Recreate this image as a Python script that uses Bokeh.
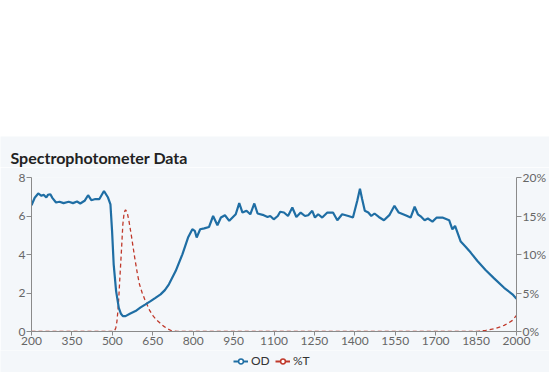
from bokeh.plotting import figure
from bokeh.layouts import column
from bokeh.models import (Range1d, LinearAxis, FixedTicker, PrintfTickFormatter,
                          Legend, LegendItem, ColumnDataSource, Spacer, Label)
from bokeh.embed import file_html
from bokeh.resources import INLINE

# ---- data ----
od_nm = [200, 212, 225, 237, 245, 255, 261, 270, 278, 291, 304, 319, 338, 354, 369, 381,
         397, 410, 422, 437, 452, 469, 484, 493, 499, 505, 514, 524, 532, 539, 549, 565,
         586, 605, 623, 642, 660, 679, 695, 710, 735, 760, 781, 797, 806, 813, 826, 841,
         859, 874, 890, 903, 918, 934, 946, 958, 971, 983, 998, 1012, 1027, 1039, 1058,
         1076, 1086, 1099, 1114, 1123, 1137, 1152, 1168, 1183, 1199, 1215, 1227, 1242,
         1252, 1264, 1279, 1298, 1319, 1335, 1353, 1376, 1393, 1409, 1419, 1427, 1437,
         1450, 1461, 1473, 1489, 1508, 1529, 1547, 1563, 1588, 1607, 1622, 1634, 1647,
         1659, 1671, 1688, 1704, 1725, 1750, 1762, 1772, 1781, 1793, 1812, 1830, 1855,
         1886, 1917, 1954, 1985, 2000]
od_val = [6.56, 6.95, 7.17, 7.05, 7.10, 6.96, 7.10, 7.13, 6.93, 6.70, 6.74, 6.67, 6.74,
          6.67, 6.75, 6.65, 6.79, 7.08, 6.82, 6.88, 6.88, 7.30, 6.96, 6.60, 5.23, 3.49,
          2.10, 1.23, 0.92, 0.80, 0.80, 0.92, 1.06, 1.25, 1.41, 1.58, 1.75, 1.93, 2.15,
          2.45, 3.14, 4.01, 4.88, 5.31, 5.23, 4.88, 5.31, 5.36, 5.43, 6.00, 5.52, 5.92,
          6.04, 5.75, 5.92, 6.09, 6.67, 6.18, 6.27, 6.09, 6.65, 6.13, 6.06, 5.95, 6.00,
          5.83, 6.00, 6.22, 6.18, 6.00, 6.44, 5.95, 6.18, 6.00, 6.04, 6.27, 5.92, 6.09,
          5.92, 6.18, 6.18, 5.78, 6.09, 6.00, 5.92, 6.79, 7.42, 6.88, 6.27, 6.18, 6.00,
          6.13, 5.95, 5.78, 6.06, 6.53, 6.18, 6.04, 5.92, 6.48, 6.09, 5.95, 5.78, 5.87,
          5.71, 5.92, 5.92, 5.78, 5.31, 5.49, 5.14, 4.67, 4.39, 4.10, 3.66, 3.18, 2.76,
          2.27, 1.93, 1.70]

t_nm = [200, 500, 508, 513, 517, 521, 524, 528, 533, 539, 544, 549, 555, 562, 570, 583,
        593, 601, 610, 620, 630, 639, 652, 664, 677, 690, 705, 720, 740, 1840, 1860,
        1886, 1917, 1940, 1954, 1970, 1985, 2000]
t_pct = [0, 0, 0.05, 0.5, 1.3, 2.8, 4.4, 7.0, 10.0, 13.9, 15.5, 15.8, 15.5, 14.3, 12.6,
         9.6, 7.5, 6.1, 5.1, 4.2, 3.4, 2.7, 2.0, 1.5, 1.1, 0.7, 0.35, 0.1, 0, 0, 0.05,
         0.15, 0.35, 0.6, 0.8, 1.1, 1.45, 2.1]

x_ticks = [200, 350, 500, 650, 800, 950, 1100, 1250, 1400, 1550, 1700, 1850, 2000]
od_ticks = [0, 2, 4, 6, 8]
pct_ticks = [0, 5, 10, 15, 20]

TITLE = "Spectrophotometer Data"
BLUE = "#1f6ea4"
RED = "#c0392b"
BG = "#f4f7fa"
AX = "#8a8a8a"
LBL = "#666666"
FONT = "Lato"
W = 549


def blank_fig(h):
    f = figure(width=W, height=h, output_backend="svg", toolbar_location=None,
               x_range=Range1d(0, 1), y_range=Range1d(0, 1),
               x_axis_type=None, y_axis_type=None,
               background_fill_color=BG, border_fill_color=BG,
               min_border=0, min_border_left=0, min_border_right=0,
               min_border_top=0, min_border_bottom=0, outline_line_color=None)
    f.frame_align = False
    f.xgrid.visible = False
    f.ygrid.visible = False
    return f


od_src = ColumnDataSource(dict(x=od_nm, y=od_val))
t_src = ColumnDataSource(dict(x=t_nm, y=t_pct))

# ---- header with title ----
head = blank_fig(31)
head.add_layout(Label(x=10, y=10, x_units="screen", y_units="screen", text=TITLE,
                      text_font=FONT, text_font_size="16px", text_font_style="bold",
                      text_color="#222222", text_baseline="middle"))

# ---- main chart ----
p = figure(width=W, height=183, output_backend="svg", toolbar_location=None,
           x_range=Range1d(200, 2000), y_range=Range1d(0, 8),
           background_fill_color=BG, border_fill_color=BG,
           min_border_left=31, min_border_right=33, min_border_top=10,
           min_border_bottom=19, outline_line_color=None)
p.frame_align = False
p.extra_y_ranges = {"pct": Range1d(0, 20)}
p.xgrid.visible = False
p.ygrid.visible = False


def style_axis(ax, ticks):
    ax.ticker = FixedTicker(ticks=ticks)
    ax.axis_line_color = AX
    ax.major_tick_line_color = AX
    ax.minor_tick_line_color = None
    ax.major_tick_in = 0
    ax.major_tick_out = 5
    ax.major_label_text_color = LBL
    ax.major_label_text_font = FONT
    ax.major_label_text_font_size = "12px"
    ax.major_label_standoff = 1


style_axis(p.xaxis[0], x_ticks)
p.xaxis[0].major_tick_out = 4
style_axis(p.yaxis[0], od_ticks)

right = LinearAxis(y_range_name="pct")
style_axis(right, pct_ticks)
right.formatter = PrintfTickFormatter(format="%d%%")
p.add_layout(right, "right")

p.line("x", "y", source=t_src, y_range_name="pct", color=RED, line_width=1.3,
       line_dash="4 3")
p.line("x", "y", source=od_src, color=BLUE, line_width=2.2)

# ---- legend strip (proxies share the data but fall outside this strip's range) ----
lg = blank_fig(22)
l_od = lg.line("x", "y", source=od_src, color=BLUE, line_width=2)
s_od = lg.scatter("x", "y", source=od_src, marker="circle", size=6,
                  line_color=BLUE, fill_color="white", line_width=1.5)
l_t = lg.line("x", "y", source=t_src, color=RED, line_width=2)
s_t = lg.scatter("x", "y", source=t_src, marker="circle", size=6,
                 line_color=RED, fill_color="white", line_width=1.5)
legend = Legend(items=[LegendItem(label="OD", renderers=[l_od, s_od]),
                       LegendItem(label="%T", renderers=[l_t, s_t])],
                orientation="horizontal", location=(233, 4),
                background_fill_alpha=0, border_line_color=None,
                label_text_font=FONT, label_text_font_size="12px",
                label_text_color="#333333", glyph_width=15, glyph_height=12,
                label_standoff=3, spacing=4, padding=2, margin=0)
lg.add_layout(legend, "center")

layout = column(Spacer(width=W, height=136), head, p, lg, spacing=0)
open("out.html", "w").write(file_html(layout, INLINE))
